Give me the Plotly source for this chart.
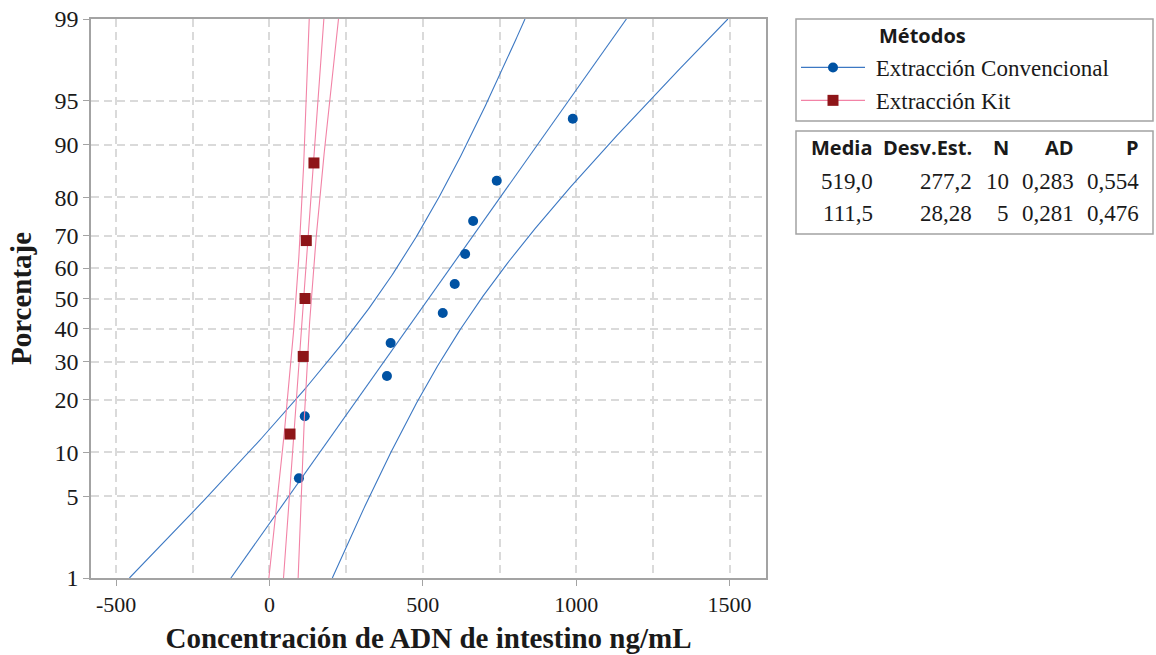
import numpy as np
import plotly.graph_objects as go
from statistics import NormalDist

# ---------------- data ----------------
series_names = ["Extracción Convencional", "Extracción Kit"]
conv_values = [96, 115, 383, 395, 565, 604, 638, 664, 741, 989]
kit_values = [67, 110, 116, 120, 145]
means = [519.0, 111.5]
sds = [277.2, 28.28]
ns = [10, 5]
ad_values = [0.283, 0.281]
p_values = [0.554, 0.476]

y_tick_pct = [1, 5, 10, 20, 30, 40, 50, 60, 70, 80, 90, 95, 99]
x_tick_vals = [-500, 0, 500, 1000, 1500]
x_minor_vals = [-250, 250, 750, 1250]

table_headers = ["Media", "Desv.Est.", "N", "AD", "P"]
legend_title = "Métodos"
x_title = "Concentración de ADN de intestino ng/mL"
y_title = "Porcentaje"

# ---------------- styles ----------------
line_colors = ["#3C78C3", "#F283A6"]
marker_colors = ["#0052A3", "#8E1518"]
marker_symbols = ["circle", "square"]
marker_sizes = [10, 11]
grid_color = "#DADADA"
axis_color = "#A3A3A3"
text_color = "#1A1A1A"
serif = "Liberation Serif"
sans = "Open Sans"

W, H = 1156, 655
L, R, T, B = 91, 766, 19, 578   # plot area in px


def px_x(p):
    return (p - L) / (R - L)


def px_y(p):
    return (B - p) / (B - T)


nd = NormalDist()
z_lo = nd.inv_cdf(0.01)
z_hi = nd.inv_cdf(0.99)

fig = go.Figure()

all_values = [conv_values, kit_values]
zs = np.linspace(z_lo, z_hi, 241)
for k in range(2):
    vals = sorted(all_values[k])
    n = len(vals)
    mu, sd = means[k], sds[k]
    # fitted line
    fit_x = mu + sd * zs
    # 95% confidence band for percentiles
    se = sd * np.sqrt((1.0 + zs ** 2 / 2.0) / n)
    lo = fit_x - 1.96 * se
    hi = fit_x + 1.96 * se
    for xs in (lo, fit_x, hi):
        fig.add_trace(go.Scatter(x=xs, y=zs, mode="lines",
                                 line=dict(color=line_colors[k], width=1.1),
                                 showlegend=False, hoverinfo="skip"))
    # plotting positions (median ranks)
    pz = [nd.inv_cdf((i + 1 - 0.3) / (n + 0.4)) for i in range(n)]
    fig.add_trace(go.Scatter(x=vals, y=pz, mode="markers",
                             marker=dict(color=marker_colors[k], symbol=marker_symbols[k],
                                         size=marker_sizes[k], line=dict(width=0)),
                             showlegend=False))

# legend entries
for k in range(2):
    fig.add_trace(go.Scatter(x=[None], y=[None], mode="lines+markers",
                             name="\u00a0" + series_names[k], legendgroup=f"g{k}",
                             line=dict(color=line_colors[k], width=1.3),
                             marker=dict(color=marker_colors[k], symbol=marker_symbols[k],
                                         size=marker_sizes[k])))


def fmt4(v):
    ip = len(str(int(abs(v))))
    d = max(0, 4 - ip)
    return f"{v:.{d}f}".replace(".", ",")


def fmt3(v):
    return f"{v:.3f}".replace(".", ",")


annotations = []
annotations.append(dict(x=px_x(877), y=px_y(36), xref="paper", yref="paper",
                        text=f"<b>{legend_title}</b>", showarrow=False,
                        xanchor="left", yanchor="middle",
                        font=dict(family=sans, size=20, color=text_color)))

col_right = [875, 974, 1011, 1076, 1141]
for c, h in enumerate(table_headers):
    annotations.append(dict(x=px_x(col_right[c]), y=px_y(148), xref="paper", yref="paper",
                            text=f"<b>{h}</b>", showarrow=False, xanchor="right",
                            yanchor="middle", font=dict(family=sans, size=20, color=text_color)))
row_y = [181, 214]
for k in range(2):
    cells = [fmt4(means[k]), fmt4(sds[k]), str(ns[k]), fmt3(ad_values[k]), fmt3(p_values[k])]
    for c, t in enumerate(cells):
        annotations.append(dict(x=px_x(col_right[c]), y=px_y(row_y[k]), xref="paper", yref="paper",
                                text=t, showarrow=False, xanchor="right", yanchor="middle",
                                font=dict(family=serif, size=23, color=text_color)))

shapes = [
    dict(type="rect", xref="paper", yref="paper", x0=px_x(796), x1=px_x(1153),
         y0=px_y(19), y1=px_y(121), line=dict(color=axis_color, width=1.5)),
    dict(type="rect", xref="paper", yref="paper", x0=px_x(796), x1=px_x(1153),
         y0=px_y(131), y1=px_y(234), line=dict(color=axis_color, width=1.5)),
]

fig.update_layout(
    width=W, height=H,
    margin=dict(l=L, r=W - R, t=T, b=H - B, pad=0, autoexpand=False),
    plot_bgcolor="white", paper_bgcolor="white",
    font=dict(family=serif, color=text_color),
    showlegend=True,
    legend=dict(x=px_x(796), y=px_y(46), xanchor="left", yanchor="top",
                bgcolor="rgba(0,0,0,0)", borderwidth=0,
                font=dict(family=serif, size=23, color=text_color),
                itemwidth=64, tracegroupgap=0, traceorder="grouped"),
    annotations=annotations,
    shapes=shapes,
)

fig.update_xaxes(
    range=[-582, 1619], tickmode="array", tickvals=x_tick_vals,
    ticktext=[str(v) for v in x_tick_vals],
    showgrid=True, gridcolor=grid_color, gridwidth=1.5, griddash="8px,5px",
    minor=dict(tickmode="array", tickvals=x_minor_vals, showgrid=True,
               gridcolor=grid_color, gridwidth=1.5, griddash="8px,5px"),
    zeroline=False, showline=True, mirror=True, linecolor=axis_color, linewidth=1.5,
    ticks="outside", ticklen=6, tickcolor=axis_color, tickwidth=1.2,
    tickfont=dict(family=serif, size=22, color=text_color),
    title=dict(text=f"<b>{x_title}</b>", font=dict(family=serif, size=29, color=text_color),
               standoff=12),
)
fig.update_yaxes(
    range=[z_lo, z_hi], tickmode="array",
    tickvals=[nd.inv_cdf(p / 100) for p in y_tick_pct],
    ticktext=[str(p) for p in y_tick_pct],
    showgrid=True, gridcolor=grid_color, gridwidth=1.5, griddash="8px,5px",
    zeroline=False, showline=True, mirror=True, linecolor=axis_color, linewidth=1.5,
    ticks="outside", ticklen=6, tickcolor=axis_color, tickwidth=1.2,
    tickfont=dict(family=serif, size=24, color=text_color),
    title=dict(text=f"<b>{y_title}</b>", font=dict(family=serif, size=29, color=text_color),
               standoff=14),
)

fig.write_html("out.html", config={"displayModeBar": False},
               post_script="document.body.style.margin='0px';document.body.style.overflow='hidden';")
